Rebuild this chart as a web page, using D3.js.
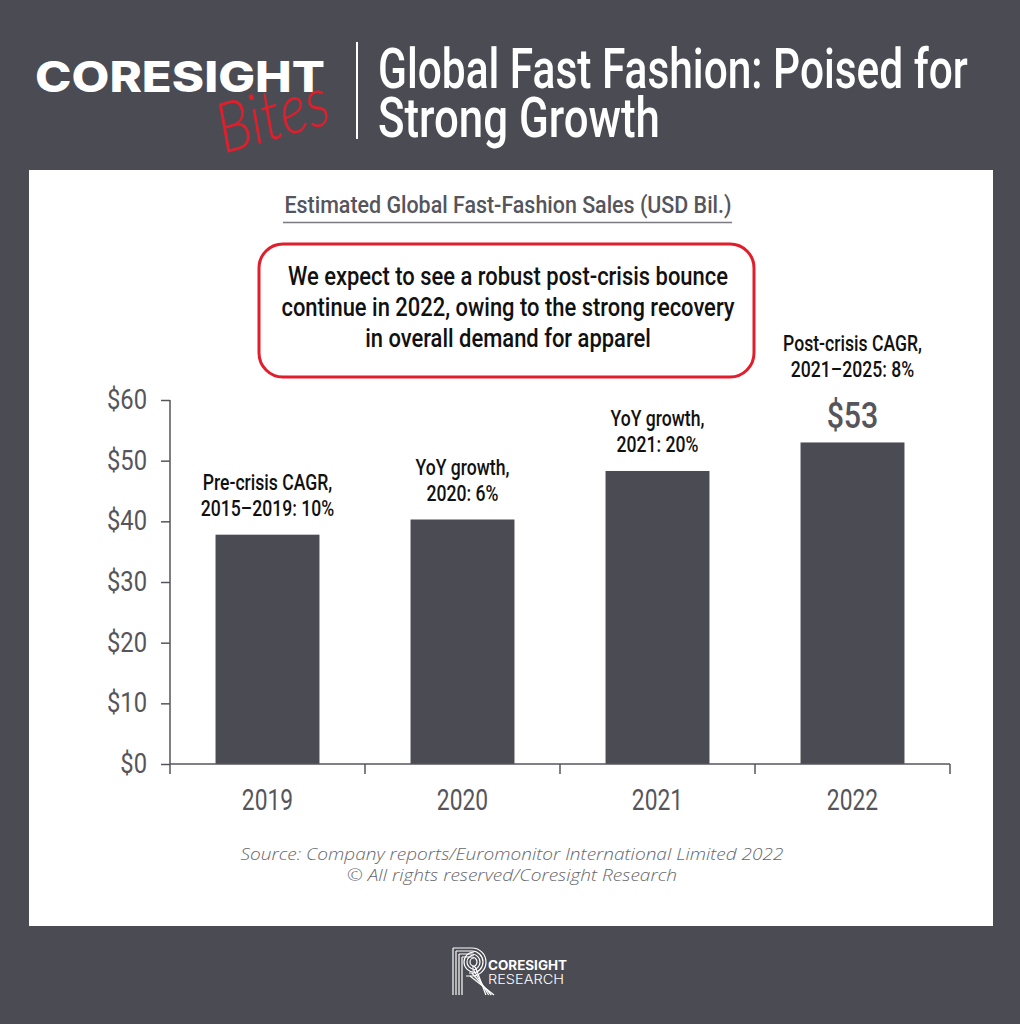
<!DOCTYPE html>
<html>
<head>
<meta charset="utf-8">
<script src="https://cdn.jsdelivr.net/npm/d3@7"></script>
<style>
  html, body { margin: 0; padding: 0; background: #4b4b53; }
  svg { display: block; }
</style>
</head>
<body>
<script>
// ---------------- DATA ----------------
const years = ["2019", "2020", "2021", "2022"];
const sales = [37.8, 40.3, 48.3, 53];
const yTicks = [0, 10, 20, 30, 40, 50, 60];
const noteLine1 = ["Pre-crisis CAGR,", "YoY growth,", "YoY growth,", "Post-crisis CAGR,"];
const noteLine2 = ["2015\u20132019: 10%", "2020: 6%", "2021: 20%", "2021\u20132025: 8%"];
const valueLabels = ["", "", "", "$53"];
const titleLines = ["Global Fast Fashion: Poised for", "Strong Growth"];
const subtitle = "Estimated Global Fast-Fashion Sales (USD Bil.)";
const calloutLines = [
  "We expect to see a robust post-crisis bounce",
  "continue in 2022, owing to the strong recovery",
  "in overall demand for apparel"
];
const sourceLines = [
  "Source: Company reports/Euromonitor International Limited 2022",
  "\u00A9 All rights reserved/Coresight Research"
];

// ---------------- SETUP ----------------
const W = 1020, H = 1024;
const DARK = "#4b4b53";
const RED = "#e11f2c";
const GREY_TXT = "#55555b";
const COND = "Roboto, 'Liberation Sans', sans-serif";

const svg = d3.select("body").append("svg").attr("width", W).attr("height", H);
svg.append("rect").attr("width", W).attr("height", H).attr("fill", DARK);

function squeeze(sel, f) {
  sel.each(function () {
    const L = this.getComputedTextLength();
    this.setAttribute("textLength", L * f);
    this.setAttribute("lengthAdjust", "spacingAndGlyphs");
  });
}
function fitTo(sel, w) {
  sel.attr("textLength", w).attr("lengthAdjust", "spacingAndGlyphs");
}

// ---------------- HEADER ----------------
const logo = svg.append("text")
  .attr("x", 35).attr("y", 92)
  .attr("font-family", "Inter, 'Open Sans', sans-serif")
  .attr("font-weight", 800).attr("font-size", 42)
  .attr("fill", "#ffffff").text("CORESIGHT");
fitTo(logo, 290);

svg.append("text")
  .attr("transform", "translate(279,138) rotate(-16)")
  .attr("text-anchor", "middle")
  .attr("font-family", "Lato, sans-serif").attr("font-style", "italic")
  .attr("font-weight", 300).attr("font-size", 70)
  .attr("fill", RED).attr("textLength", 114).attr("lengthAdjust", "spacingAndGlyphs")
  .text("Bites");

svg.append("line").attr("x1", 357).attr("x2", 357).attr("y1", 42).attr("y2", 139)
  .attr("stroke", "#ffffff").attr("stroke-width", 2);

// title: horizontally scaled (condensed) via transform so the box stays true
const titleWidths = [590, 282];
svg.selectAll("text.title").data(titleLines).join("text")
  .attr("class", "title")
  .attr("x", 0).attr("y", 0)
  .attr("font-family", COND).attr("font-weight", 500).attr("font-size", 55)
  .attr("fill", "#ffffff")
  .text(d => d)
  .each(function (d, i) {
    const L = this.getComputedTextLength();
    const s = titleWidths[i] / L;
    this.setAttribute("transform", `translate(378,${88 + i * 49}) scale(${s},1)`);
  });

// ---------------- PANEL ----------------
svg.append("rect").attr("x", 29).attr("y", 170).attr("width", 964).attr("height", 756)
  .attr("fill", "#ffffff");

const sub = svg.append("text")
  .attr("x", 508).attr("y", 213).attr("text-anchor", "middle")
  .attr("font-family", COND).attr("font-weight", 500).attr("font-size", 24)
  .attr("fill", GREY_TXT).text(subtitle);
fitTo(sub, 447);
svg.append("line").attr("x1", 283).attr("x2", 732).attr("y1", 222.5).attr("y2", 222.5)
  .attr("stroke", "#7a7a80").attr("stroke-width", 1.5);

// callout box
svg.append("rect").attr("x", 259).attr("y", 244).attr("width", 495).attr("height", 133)
  .attr("rx", 24).attr("ry", 24)
  .attr("fill", "#ffffff").attr("stroke", RED).attr("stroke-width", 3);
const callout = svg.selectAll("text.callout").data(calloutLines).join("text")
  .attr("class", "callout")
  .attr("x", 508).attr("y", (d, i) => 285 + i * 31)
  .attr("text-anchor", "middle")
  .attr("font-family", COND).attr("font-weight", 500).attr("font-size", 25)
  .attr("fill", "#111111").text(d => d);
{
  const L0 = callout.node().getComputedTextLength();
  squeeze(callout, 440 / L0);
}

// ---------------- CHART ----------------
const y = d3.scaleLinear().domain([0, 60]).range([764, 400]);
const x = d3.scaleBand().domain(years).range([170, 950]).paddingInner(0.467).paddingOuter(0.2335);

// bars
svg.selectAll("rect.bar").data(years).join("rect")
  .attr("class", "bar")
  .attr("x", d => x(d)).attr("width", x.bandwidth())
  .attr("y", (d, i) => y(sales[i])).attr("height", (d, i) => y(0) - y(sales[i]))
  .attr("fill", DARK);

// y axis
const yAxis = svg.append("g").attr("transform", "translate(170,0)")
  .call(d3.axisLeft(y).tickValues(yTicks).tickFormat(d => "$" + d).tickSize(9).tickPadding(14));
yAxis.select(".domain").attr("stroke", GREY_TXT).attr("stroke-width", 1.5).attr("d", "M0,400V764");
yAxis.selectAll(".tick line").attr("stroke", GREY_TXT).attr("stroke-width", 1.5);
yAxis.selectAll(".tick text")
  .attr("font-family", COND).attr("font-weight", 400).attr("font-size", 27).attr("fill", GREY_TXT);
squeeze(yAxis.selectAll(".tick text"), 0.88);

// x axis (labels)
const xAxis = svg.append("g").attr("transform", "translate(0,764)")
  .call(d3.axisBottom(x).tickSize(0).tickPadding(25));
xAxis.select(".domain").attr("stroke", GREY_TXT).attr("stroke-width", 1.5).attr("d", "M170,0H950");
xAxis.selectAll(".tick text")
  .attr("font-family", COND).attr("font-weight", 400).attr("font-size", 30).attr("fill", GREY_TXT);
squeeze(xAxis.selectAll(".tick text"), 0.76);

// category boundary ticks
const bounds = d3.range(years.length + 1).map(i => x.range()[0] + i * x.step());
svg.selectAll("line.btick").data(bounds).join("line")
  .attr("class", "btick")
  .attr("x1", d => d).attr("x2", d => d).attr("y1", 764).attr("y2", 774)
  .attr("stroke", GREY_TXT).attr("stroke-width", 1.5);

// annotations
const ann = svg.append("g");
years.forEach((yr, i) => {
  const cx = x(yr) + x.bandwidth() / 2;
  const top = y(sales[i]);
  let base2;
  if (valueLabels[i]) {
    const vBase = top - 14;
    const vt = ann.append("text").attr("x", cx).attr("y", vBase).attr("text-anchor", "middle")
      .attr("font-family", COND).attr("font-weight", 500).attr("font-size", 37)
      .attr("fill", GREY_TXT).text(valueLabels[i]);
    squeeze(vt, 0.82);
    base2 = vBase - 51;
  } else {
    base2 = top - 19;
  }
  const t1 = ann.append("text").attr("x", cx).attr("y", base2 - 26).attr("text-anchor", "middle")
    .attr("font-family", COND).attr("font-weight", 500).attr("font-size", 22)
    .attr("fill", "#111111").text(noteLine1[i]);
  const t2 = ann.append("text").attr("x", cx).attr("y", base2).attr("text-anchor", "middle")
    .attr("font-family", COND).attr("font-weight", 500).attr("font-size", 22)
    .attr("fill", "#111111").text(noteLine2[i]);
  squeeze(t1, 0.8);
  squeeze(t2, 0.8);
});

// source
const srcWidths = [543, 330];
svg.selectAll("text.src").data(sourceLines).join("text")
  .attr("class", "src")
  .attr("x", 512).attr("y", (d, i) => 860 + i * 21).attr("text-anchor", "middle")
  .attr("font-family", "'Open Sans', sans-serif").attr("font-style", "italic")
  .attr("font-weight", 300).attr("font-size", 16.5)
  .attr("fill", "#66666c")
  .attr("textLength", (d, i) => srcWidths[i]).attr("lengthAdjust", "spacingAndGlyphs")
  .text(d => d);

// ---------------- FOOTER LOGO ----------------
const fl = svg.append("g").attr("transform", "translate(452,947)")
  .attr("fill", "none").attr("stroke", "#ffffff").attr("stroke-width", 1.2);
for (let i = 0; i < 4; i++) {
  const o = i * 3;
  fl.append("line").attr("x1", 1 + o).attr("x2", 1 + o).attr("y1", 48).attr("y2", 1 + o);
  const r = 14 - o;
  fl.append("path").attr("d",
    `M${1 + o},${1 + o} H${20} A${r},${r} 0 0 1 ${20},${29 - o} H${14 + o}`);
  fl.append("line").attr("x1", 18 + o * 0.6).attr("y1", 29 - o).attr("x2", 42 - o * 0.9).attr("y2", 48);
}
for (let i = 0; i < 3; i++) {
  const r = 4 + i * 3;
  fl.append("path").attr("d", `M${22},${15 - r} A${r},${r} 0 1 0 ${22},${15 + r}`);
}

svg.append("text").attr("x", 488).attr("y", 970)
  .attr("font-family", "Inter, 'Open Sans', sans-serif").attr("font-weight", 700).attr("font-size", 12.5)
  .attr("fill", "#ffffff").attr("textLength", 79).attr("lengthAdjust", "spacingAndGlyphs")
  .text("CORESIGHT");
svg.append("text").attr("x", 488).attr("y", 984)
  .attr("font-family", "Inter, 'Open Sans', sans-serif").attr("font-weight", 300).attr("font-size", 12.5)
  .attr("fill", "#ffffff").attr("textLength", 76).attr("lengthAdjust", "spacingAndGlyphs")
  .text("RESEARCH");
</script>
</body>
</html>
